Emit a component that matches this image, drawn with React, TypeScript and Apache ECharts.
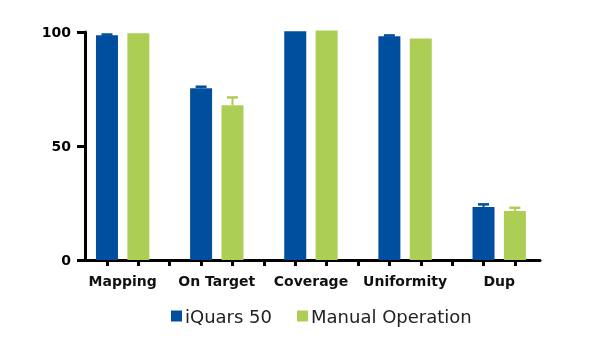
import React, { useEffect, useRef } from "react";
import * as echarts from "echarts";

const categories = ["Mapping", "On Target", "Coverage", "Uniformity", "Dup"];
const seriesNames = ["iQuars 50", "Manual Operation"];
const iquarsValues = [98.6, 75.3, 100.3, 98.1, 23.2];
const iquarsErrors = [0.3, 0.7, 0, 0.4, 1.2];
const manualValues = [99.4, 67.9, 100.7, 97.2, 21.5];
const manualErrors = [0, 3.4, 0, 0, 1.4];
const yTicks = [0, 50, 100];

const BLUE = "#004F9F";
const GREEN = "#ADCE55";
const FONT = "DejaVu Sans";

export default function App() {
  const ref = useRef<HTMLDivElement>(null);
  useEffect(() => {
    if (!ref.current) return;
    const chart = echarts.init(ref.current, undefined, { renderer: "svg" });
    const slot = (i: number, s: number) => i * 3 + 1 + s;
    const barData = (vals: number[], s: number) => vals.map((v, i) => [slot(i, s), v]);
    const errData = (vals: number[], errs: number[], s: number) =>
      vals.map((v, i) => [slot(i, s), v, errs[i]]);
    const tickVals: number[] = [];
    categories.forEach((_, i) => {
      tickVals.push(slot(i, 0), slot(i, 1));
      if (i < categories.length - 1) tickVals.push(slot(i, 2));
    });
    const labelVals = categories.map((_, i) => slot(i, 0) + 0.5);

    const errSeries = (vals: number[], errs: number[], s: number, color: string) => ({
      type: "custom",
      data: errData(vals, errs, s),
      z: 3,
      clip: false,
      silent: true,
      renderItem: (params: any, api: any) => {
        const x = api.value(0);
        const m = api.value(1);
        const e = api.value(2);
        if (!e) return null;
        const p0 = api.coord([x, m]);
        const p1 = api.coord([x, m + e]);
        const half = 5.5;
        return {
          type: "group",
          children: [
            { type: "line", shape: { x1: p0[0], y1: p0[1], x2: p1[0], y2: p1[1] }, style: { stroke: color, lineWidth: 2 } },
            { type: "line", shape: { x1: p1[0] - half, y1: p1[1], x2: p1[0] + half, y2: p1[1] }, style: { stroke: color, lineWidth: 2.5 } },
          ],
        };
      },
    });

    chart.setOption({
      animation: false,
      grid: { left: 85, right: 60, top: 32, bottom: 98 },
      legend: {
        left: 166,
        top: 302,
        itemWidth: 11,
        itemHeight: 11,
        itemGap: 25,
        icon: "rect",
        data: seriesNames,
        textStyle: { fontFamily: FONT, fontSize: 18, color: "#222", padding: [0, 0, 0, -2] },
      },
      xAxis: {
        type: "value",
        min: 0.3,
        max: 14.8,
        splitLine: { show: false },
        axisLine: { show: true, lineStyle: { color: "#000", width: 3 } },
        axisTick: { show: true, customValues: tickVals, length: 6, lineStyle: { color: "#000", width: 3 } },
        axisLabel: {
          customValues: labelVals,
          formatter: (v: number) => categories[Math.round((v - 1.5) / 3)] ?? "",
          fontFamily: FONT,
          fontWeight: "bold",
          fontSize: 14,
          color: "#111",
          margin: 14,
        },
      },
      yAxis: {
        type: "value",
        min: 0,
        max: 100,
        interval: 50,
        splitLine: { show: false },
        axisLine: { show: true, lineStyle: { color: "#000", width: 3 } },
        axisTick: { show: true, length: 8, lineStyle: { color: "#000", width: 3 } },
        axisLabel: {
          customValues: yTicks,
          fontFamily: FONT,
          fontWeight: "bold",
          fontSize: 14,
          color: "#000",
          margin: 14,
        },
      },
      series: [
        {
          name: seriesNames[0],
          type: "bar",
          data: barData(iquarsValues, 0),
          barWidth: 22,
          barGap: "-100%",
          clip: false,
          itemStyle: { color: BLUE },
        },
        {
          name: seriesNames[1],
          type: "bar",
          data: barData(manualValues, 1),
          barWidth: 22,
          barGap: "-100%",
          clip: false,
          itemStyle: { color: GREEN },
        },
        errSeries(iquarsValues, iquarsErrors, 0, BLUE),
        errSeries(manualValues, manualErrors, 1, GREEN),
      ],
    });
    return () => chart.dispose();
  }, []);
  return <div ref={ref} style={{ position: "fixed", left: 0, top: 0, width: 600, height: 358 }} />;
}
